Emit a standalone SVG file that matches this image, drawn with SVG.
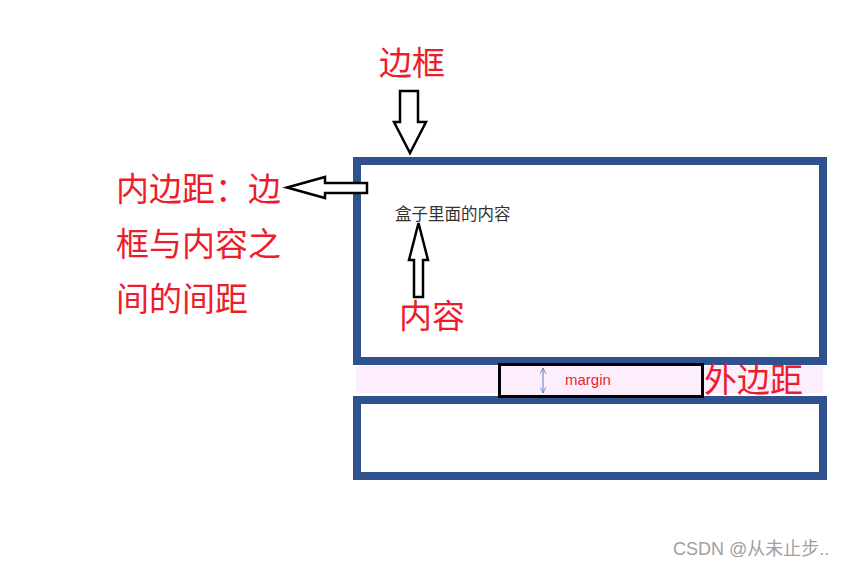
<svg xmlns="http://www.w3.org/2000/svg" width="850" height="568" viewBox="0 0 850 568">
<defs>
<style>
.box{fill:#ffffff;stroke:#2F528F;stroke-width:8}
.red{fill:#EE1D2C;font-family:"Noto Sans CJK SC","Liberation Sans",sans-serif;font-size:33px}
.arrow{fill:#ffffff;stroke:#000000;stroke-width:2.5;stroke-linejoin:miter}
</style>
<marker id="oh" viewBox="0 0 10 10" refX="9" refY="5" markerWidth="7" markerHeight="7" orient="auto-start-reverse" markerUnits="userSpaceOnUse">
<path d="M1,1 L9,5 L1,9" fill="none" stroke="#5B7FC0" stroke-width="1.2"/>
</marker>
</defs>
<rect width="850" height="568" fill="#ffffff"/>
<g id="margin-band">
<rect x="356" y="366" width="467" height="27" fill="#FCEEFC"/>
</g>
<g id="box-top">
<rect class="box" x="357" y="161" width="466" height="200"/>
</g>
<g id="box-bottom">
<rect class="box" x="357" y="400" width="466" height="76"/>
</g>
<g id="margin-label">
<rect x="499.5" y="364.5" width="203" height="32" fill="#FCEEFC" stroke="#000000" stroke-width="3"/>
<text x="565" y="385" fill="#EE1D2C" font-family="Liberation Sans, sans-serif" font-size="15">margin</text>
</g>
<g id="connectors">
<polygon class="arrow" points="400,91 418,91 418,122 426,122 410,153 394,122 400,122"/>
<polygon class="arrow" points="367,183 325,183 325,177 287,187.5 325,198 325,193 367,193"/>
<polygon class="arrow" points="418.5,223 428,260 423,260 423,297 414,297 414,260 409,260"/>
<line x1="543" y1="368" x2="543" y2="393" stroke="#5B7FC0" stroke-width="1" marker-start="url(#oh)" marker-end="url(#oh)"/>
</g>
<g id="label-border">
<text class="red" x="379" y="75">边框</text>
</g>
<g id="label-padding">
<text class="red" x="116" y="201">内边距：边</text>
<text class="red" x="116" y="256">框与内容之</text>
<text class="red" x="116" y="311">间的间距</text>
</g>
<g id="label-content">
<text class="red" x="399" y="328">内容</text>
</g>
<g id="label-outer">
<text class="red" x="704" y="392">外边距</text>
</g>
<g id="content-text">
<text x="395" y="220" fill="#333333" font-family="Noto Sans CJK SC, sans-serif" font-size="16.5">盒子里面的内容</text>
</g>
<g id="watermark">
<text x="673" y="555" fill="#A0A0A0" font-family="Liberation Sans, Noto Sans CJK SC, sans-serif" font-size="18">CSDN @从未止步..</text>
</g>
</svg>
